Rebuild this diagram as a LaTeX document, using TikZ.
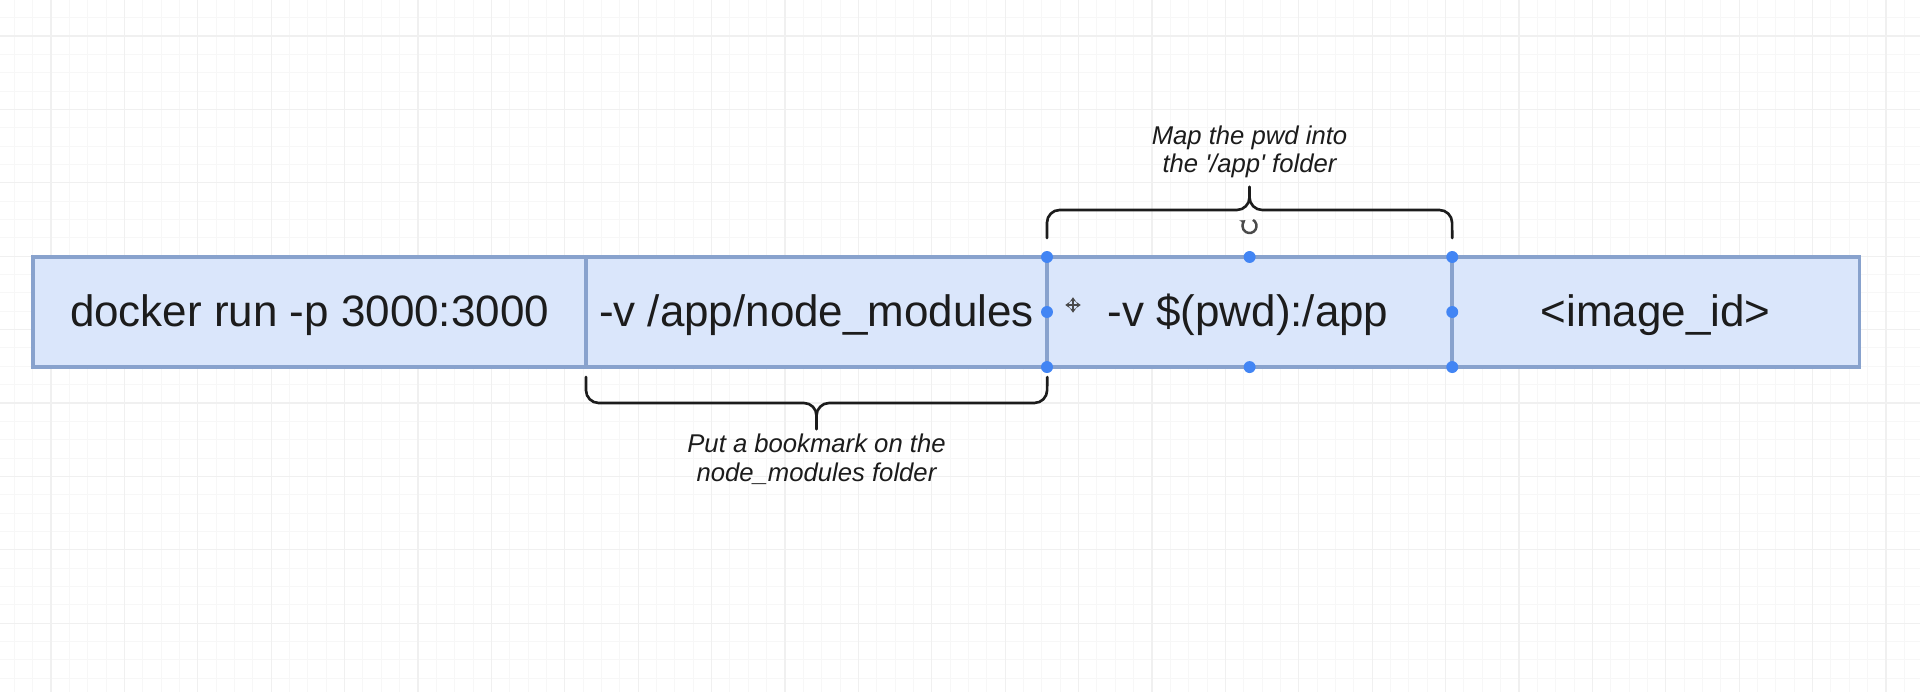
\documentclass[tikz,border=0pt]{standalone}
\usepackage{fontspec}
\setmainfont{Liberation Sans}
\usetikzlibrary{arrows.meta}
\definecolor{cellfill}{HTML}{DAE6FB}
\definecolor{cellline}{HTML}{88A2CD}
\definecolor{handle}{HTML}{4285F4}
\definecolor{gridminor}{HTML}{F7F7F7}
\definecolor{gridmajor}{HTML}{F0F0F0}
\definecolor{ink}{HTML}{1C1C1C}
\definecolor{icongray}{HTML}{4A4A4A}
\tikzset{
  cell/.style={draw=cellline, fill=cellfill, line width=0.9pt, inner sep=0pt, outer sep=0pt,
    minimum height=1.10cm, anchor=north west},
  maintext/.style={text=ink, inner sep=0pt, anchor=base, font=\fontsize{12.5}{15}\selectfont},
  note/.style={text=ink, inner sep=0pt, anchor=base, font=\fontsize{7.3}{8}\selectfont\itshape},
  brace/.style={draw=ink, line width=0.75pt, rounded corners=3.6pt, line cap=round},
  hdl/.style={fill=handle},
  iconline/.style={draw=icongray, line width=0.7pt},
}
\begin{document}
\begin{tikzpicture}[x=0.01cm,y=-0.01cm]
\useasboundingbox (0,0) rectangle (1920,692);
\fill[white] (0,0) rectangle (1920,692);
% background grid
\foreach \i in {0,...,105} {
  \draw[gridminor, line width=0.3pt] ({14.3+18.35*\i},0) -- ({14.3+18.35*\i},692);
}
\foreach \i in {0,...,38} {
  \draw[gridminor, line width=0.3pt] (0,{-0.7+18.35*\i}) -- (1920,{-0.7+18.35*\i});
}
\foreach \i in {-1,...,26} {
  \draw[gridmajor, line width=0.35pt] ({51+73.4*\i},0) -- ({51+73.4*\i},692);
}
\foreach \i in {0,...,9} {
  \draw[gridmajor, line width=0.35pt] (0,{36+73.4*\i}) -- (1920,{36+73.4*\i});
}
% cells
\node[cell, minimum width=5.53cm] (c1) at (33,257) {};
\node[cell, minimum width=4.61cm] (c2) at (586,257) {};
\node[cell, minimum width=4.05cm] (c3) at (1047,257) {};
\node[cell, minimum width=4.07cm] (c4) at (1452,257) {};
% cell texts
\node[maintext] (t1) at (309.5,327) {docker run -p 3000:3000};
\node[maintext] (t2) at (816.5,327) {-v /app/node\_modules};
\node[maintext] (t3) at (1248,327) {-v \$(pwd):/app};
\node[maintext] (t4) at (1655.5,327) {<image\_id>};
% braces
\draw[brace] (c3.north west) ++(0,-19) -- (1047,210) -- (1249.5,210) -- (1249.5,187);
\draw[brace] (c3.north east) ++(0,-19) -- (1452,210) -- (1249.5,210) -- (1249.5,187);
\draw[brace] (c2.south west) ++(0,10) -- (586,403) -- (816.5,403) -- (816.5,429);
\draw[brace] (c2.south east) ++(0,10) -- (1047,403) -- (816.5,403) -- (816.5,429);
% annotations
\node[note] (n1a) at (1249.5,145) {Map the pwd into};
\node[note] (n1b) at (1249.5,173) {the {\textquotesingle}/app{\textquotesingle} folder};
\node[note] (n2a) at (816.5,453) {Put a bookmark on the};
\node[note] (n2b) at (816.5,482) {node\_modules folder};
% selection handles
\foreach \p in {c3.north west, c3.north, c3.north east, c3.west, c3.east, c3.south west, c3.south, c3.south east}
  \fill[hdl] (\p) circle[radius=1.7pt];
% rotate icon
\coordinate (rot) at (1249.5,226);
\draw[iconline, -{Stealth[length=1.5pt,width=2pt]}] (rot) ++(60:2pt) arc[start angle=60, end angle=-235, radius=2pt];
% move icon
\coordinate (mv) at (1073,305);
\draw[iconline, {Stealth[length=1.3pt,width=1.8pt]}-{Stealth[length=1.3pt,width=1.8pt]}] (mv) ++(-2.2pt,0) -- ++(4.4pt,0);
\draw[iconline, {Stealth[length=1.3pt,width=1.8pt]}-{Stealth[length=1.3pt,width=1.8pt]}] (mv) ++(0,-2.2pt) -- ++(0,4.4pt);
\end{tikzpicture}
\end{document}
